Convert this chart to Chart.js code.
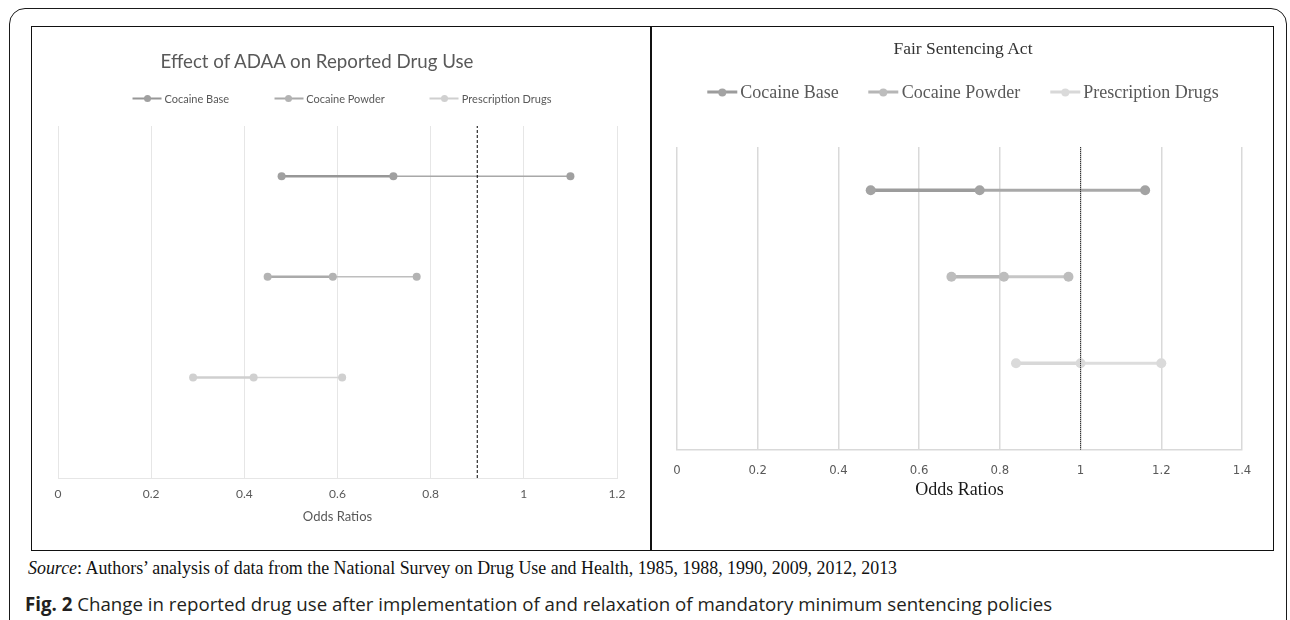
<!DOCTYPE html>
<html>
<head>
<meta charset="utf-8">
<script src="https://cdn.jsdelivr.net/npm/chart.js@4.4.1/dist/chart.umd.min.js"></script>
<style>
html, body { margin: 0; padding: 0; background: #fff; }
body { width: 1290px; height: 620px; position: relative; overflow: hidden; }
#outer { position: absolute; left: 9px; top: 8px; width: 1278px; height: 660px; border: 1.5px solid #1a1a1a; border-radius: 16px; box-sizing: border-box; }
#frame { position: absolute; left: 31px; top: 26px; width: 1243px; height: 525px; border: 1.5px solid #111; box-sizing: border-box; }
#divider { position: absolute; left: 650px; top: 26px; width: 1.5px; height: 525px; background: #111; }
canvas { position: absolute; }
#c1 { left: 32px; top: 27px; }
#c2 { left: 652px; top: 27px; }
.centered { position: absolute; white-space: nowrap; transform: translate(-50%, -50%); line-height: 1.2; }
#t1 { left: 317px; top: 61px; font: 18.7px Lato, sans-serif; color: #595959; }
#t2 { left: 963px; top: 48px; font: 17.5px "Liberation Serif", serif; color: #333; }
.legend { position: absolute; display: flex; align-items: center; white-space: nowrap; transform: translate(-50%, -50%); }
#l1 { left: 342px; top: 98px; font: 11px Lato, sans-serif; color: #595959; gap: 45px; }
#l2 { left: 963px; top: 92px; font: 18px "Liberation Serif", serif; color: #595959; gap: 30px; }
.item { display: flex; align-items: center; }
.swatch { position: relative; margin-right: 3px; }
.dot { position: absolute; top: 50%; left: 50%; border-radius: 50%; transform: translate(-50%, -50%); }
.note { position: absolute; white-space: nowrap; transform: translateY(-50%); line-height: 1.2; }
#src { left: 28px; top: 568px; font: 17.9px "Liberation Serif", serif; color: #111; }
#fig { left: 25px; top: 603px; font: 18.7px "Open Sans", sans-serif; color: #231f20; }
#fig b { font-weight: 700; }
</style>
</head>
<body>
<div id="outer"></div>
<div id="frame"></div>
<div id="divider"></div>
<canvas id="c1" width="618" height="523"></canvas>
<canvas id="c2" width="621" height="523"></canvas>
<div class="centered" id="t1">Effect of ADAA on Reported Drug Use</div>
<div class="centered" id="t2">Fair Sentencing Act</div>
<div class="legend" id="l1"></div>
<div class="legend" id="l2"></div>
<div class="note" id="src"><i>Source</i>: Authors’ analysis of data from the National Survey on Drug Use and Health, 1985, 1988, 1990, 2009, 2012, 2013</div>
<div class="note" id="fig"><b>Fig. 2</b> Change in reported drug use after implementation of and relaxation of mandatory minimum sentencing policies</div>
<script>
// drug series, one row each (top to bottom)
const seriesNames = ['Cocaine Base', 'Cocaine Powder', 'Prescription Drugs'];
const rowY = [3, 2, 1];
const yRange = [0, 3.5];

// ADAA: lower bound, estimate, upper bound
const adaaLow = [0.48, 0.45, 0.29];
const adaaEst = [0.72, 0.59, 0.42];
const adaaHigh = [1.10, 0.77, 0.61];
const adaaRef = 0.9;
const adaaTicks = [0, 0.2, 0.4, 0.6, 0.8, 1, 1.2];

// Fair Sentencing Act
const fsaLow = [0.48, 0.68, 0.84];
const fsaEst = [0.75, 0.81, 1.00];
const fsaHigh = [1.16, 0.97, 1.20];
const fsaRef = 1.0;
const fsaTicks = [0, 0.2, 0.4, 0.6, 0.8, 1, 1.2, 1.4];

const leftStyle = {
    dot: ['#a0a0a0', '#b3b3b3', '#d0d0d0'],
    seg1: ['#979797', '#aaaaaa', '#cfcfcf'],
    seg2: ['#a8a8a8', '#bebebe', '#d6d6d6'],
    w1: 2.5, w2: 1.5, radius: 4,
    grid: '#e6e6e6', gridWidth: 1,
    refDash: [3, 2],
    tickFont: {family: 'Lato', size: 12},
    tickPad: 9,
    titleFont: {family: 'Lato', size: 13},
    titleColor: '#595959',
    titlePad: {top: -1, bottom: 4},
    padding: {left: 26, right: 33, top: 99, bottom: 21},
    swatchW: 29, swatchH: 2, swatchDot: 7
};
const rightStyle = {
    dot: ['#a3a3a3', '#bdbdbd', '#dadada'],
    seg1: ['#9c9c9c', '#b6b6b6', '#d8d8d8'],
    seg2: ['#a8a8a8', '#c6c6c6', '#dddddd'],
    w1: 3.5, w2: 3, radius: 5,
    grid: '#d9d9d9', gridWidth: 1.5,
    refDash: [1, 1],
    tickFont: {family: "'Liberation Sans Narrow', 'DejaVu Sans Condensed', sans-serif", size: 13},
    tickPad: 13,
    titleFont: {family: "'Liberation Serif', serif", size: 18},
    titleColor: '#1a1a1a',
    titlePad: {top: -12, bottom: 4},
    padding: {left: 25, right: 31, top: 120, bottom: 45},
    swatchW: 30, swatchH: 3.5, swatchDot: 8
};

function buildLegend(id, st) {
    var box = document.getElementById(id);
    seriesNames.forEach(function (name, i) {
        var item = document.createElement('div');
        item.className = 'item';
        var sw = document.createElement('span');
        sw.className = 'swatch';
        sw.style.width = st.swatchW + 'px';
        sw.style.height = st.swatchH + 'px';
        sw.style.background = st.seg1[i];
        var dot = document.createElement('span');
        dot.className = 'dot';
        dot.style.width = st.swatchDot + 'px';
        dot.style.height = st.swatchDot + 'px';
        dot.style.background = st.dot[i];
        sw.appendChild(dot);
        var label = document.createElement('span');
        label.textContent = name;
        item.appendChild(sw);
        item.appendChild(label);
        box.appendChild(item);
    });
}

function makeChart(canvasId, lows, ests, highs, ref, ticks, st) {
    var datasets = [{
        label: 'reference',
        data: [{x: ref, y: yRange[0]}, {x: ref, y: yRange[1]}],
        borderColor: '#000',
        borderWidth: 1,
        borderDash: st.refDash,
        pointRadius: 0,
        showLine: true,
        order: 0
    }];
    for (let i in seriesNames) {
        datasets.push({
            label: seriesNames[i],
            data: [
                {x: lows[i], y: rowY[i]},
                {x: ests[i], y: rowY[i]},
                {x: highs[i], y: rowY[i]}
            ],
            showLine: true,
            borderColor: st.seg2[i],
            borderWidth: st.w2,
            segment: {
                borderColor: ctx => ctx.p0DataIndex === 0 ? st.seg1[i] : st.seg2[i],
                borderWidth: ctx => ctx.p0DataIndex === 0 ? st.w1 : st.w2
            },
            pointRadius: st.radius,
            pointBackgroundColor: st.dot[i],
            pointBorderWidth: 0,
            order: 1
        });
    }
    return new Chart(document.getElementById(canvasId), {
        type: 'scatter',
        data: {datasets: datasets},
        options: {
            responsive: false,
            animation: false,
            layout: {padding: st.padding},
            plugins: {legend: {display: false}, title: {display: false}, tooltip: {enabled: false}},
            scales: {
                x: {
                    type: 'linear',
                    min: ticks[0],
                    max: ticks[ticks.length - 1],
                    afterBuildTicks: function (scale) {
                        scale.ticks = ticks.map(v => ({value: v}));
                    },
                    grid: {color: st.grid, lineWidth: st.gridWidth, drawTicks: false},
                    border: {display: true, color: st.grid, width: st.gridWidth},
                    ticks: {
                        color: '#595959',
                        font: st.tickFont,
                        padding: st.tickPad,
                        maxRotation: 0,
                        callback: v => String(v)
                    },
                    title: {
                        display: true,
                        text: 'Odds Ratios',
                        color: st.titleColor,
                        font: st.titleFont,
                        padding: st.titlePad
                    }
                },
                y: {type: 'linear', min: yRange[0], max: yRange[1], display: false}
            }
        }
    });
}

buildLegend('l1', leftStyle);
buildLegend('l2', rightStyle);
makeChart('c1', adaaLow, adaaEst, adaaHigh, adaaRef, adaaTicks, leftStyle);
makeChart('c2', fsaLow, fsaEst, fsaHigh, fsaRef, fsaTicks, rightStyle);
</script>
</body>
</html>
